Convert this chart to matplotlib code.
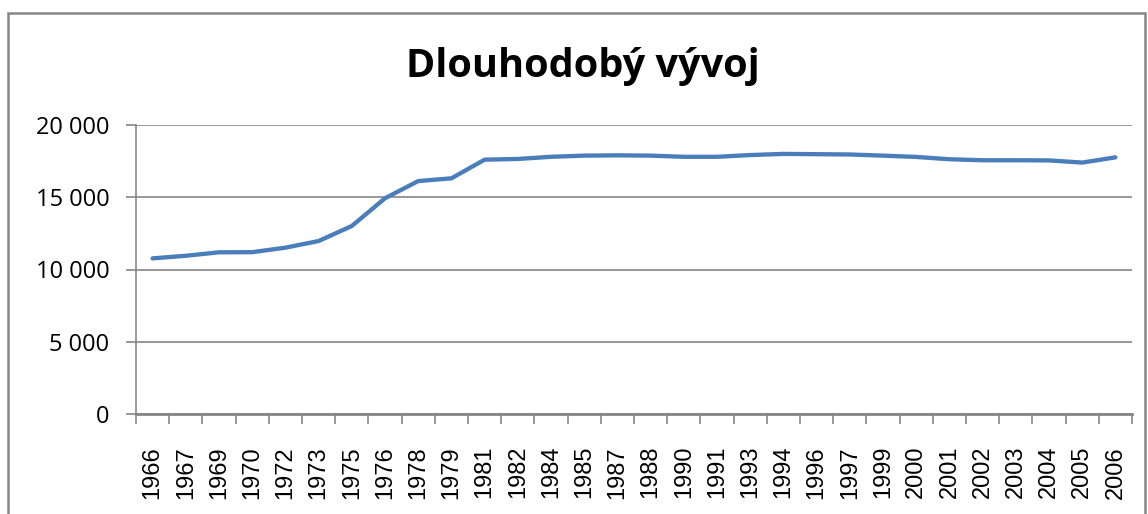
"""Dlouhodobý vývoj - čárový graf"""

import matplotlib
matplotlib.use('Agg')
import matplotlib.pyplot as plt
from matplotlib.patches import Rectangle
from matplotlib.ticker import FuncFormatter
import numpy as np

# data
roky = ['1966', '1967', '1969', '1970', '1972', '1973', '1975', '1976', '1978', '1979',
        '1981', '1982', '1984', '1985', '1987', '1988', '1990', '1991', '1993', '1994',
        '1996', '1997', '1999', '2000', '2001', '2002', '2003', '2004', '2005', '2006']
hodnoty = [10770, 10950, 11190, 11200, 11510, 11970, 13010, 14930, 16120, 16310,
           17600, 17650, 17800, 17880, 17900, 17880, 17800, 17800, 17920, 18000,
           17980, 17960, 17880, 17790, 17630, 17560, 17560, 17550, 17400, 17760]
y_ticks = [0, 5000, 10000, 15000, 20000]

W, H = 1148, 514
fig = plt.figure(figsize=(W / 100, H / 100), dpi=100)
fig.patch.set_facecolor('white')

# ramecek grafu
fig.patches.append(Rectangle((8 / W, -0.05), (1145 - 8) / W, 1.05 - 12.5 / H,
                             transform=fig.transFigure, fill=False,
                             edgecolor='#868686', linewidth=1.8))

ax = fig.add_axes([136 / W, 1 - 414 / H, (1132 - 136) / W, (414 - 125) / H])
x = np.arange(len(roky))
ax.plot(x, hodnoty, color='#4A7EBB', linewidth=3.1, solid_capstyle='round')

ax.set_xlim(-0.5, len(roky) - 0.5)
ax.set_ylim(0, 20000)
ax.set_yticks(y_ticks)
ax.yaxis.set_major_formatter(FuncFormatter(lambda v, p: f'{int(v):,}'.replace(',', ' ') if v else '0'))
ax.grid(True, axis='y', color='#868686', linewidth=1.2)
ax.set_axisbelow(True)

ax.set_xticks(x)
ax.set_xticklabels(roky, rotation=90, fontfamily='Liberation Sans', fontsize=17)
ax.set_xticks(np.arange(-0.5, len(roky)), minor=True)
ax.tick_params(axis='x', which='major', length=0, pad=23)
ax.tick_params(axis='x', which='minor', length=7, width=1.2, color='#868686')
ax.tick_params(axis='y', length=7, width=1.2, color='#868686', pad=12)
for lab in ax.get_yticklabels():
    lab.set_fontfamily('Open Sans')
    lab.set_fontsize(17)

for s in ['top', 'right']:
    ax.spines[s].set_visible(False)
ax.spines['left'].set_color('#868686')
ax.spines['left'].set_linewidth(1.2)
ax.spines['bottom'].set_color('#868686')
ax.spines['bottom'].set_linewidth(2)

fig.text(583 / W, 1 - 66 / H, 'Dlouhodobý vývoj', ha='center', va='center',
         fontfamily='Open Sans', fontweight='bold', fontsize=28.5)

fig.savefig('out.png', dpi=100)
